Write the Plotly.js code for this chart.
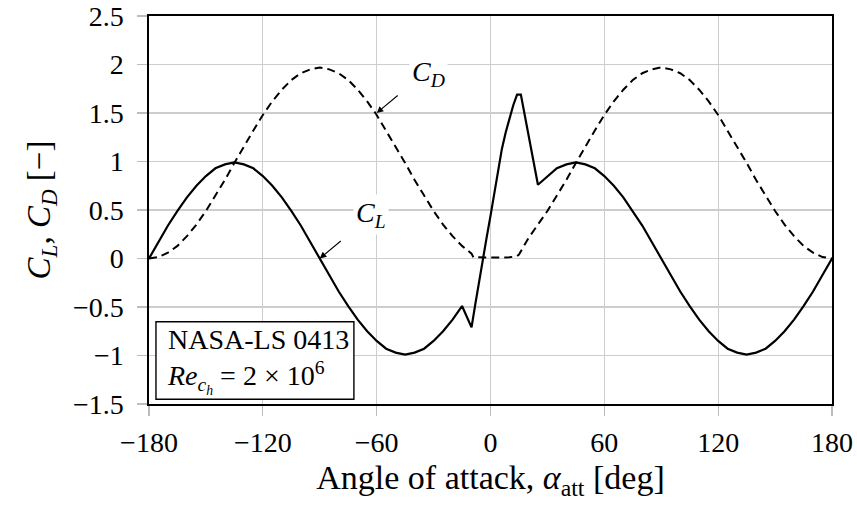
<!DOCTYPE html>
<html>
<head>
<meta charset="utf-8">
<script src="https://cdn.plot.ly/plotly-3.0.1.min.js"></script>
<style>html,body{margin:0;padding:0;background:#fff;}#chart{width:857px;height:505px;}</style>
</head>
<body>
<div id="chart"></div>
<script>
// Angle of attack [deg] and lift coefficient
const alphaCL = [-180,-175,-170,-165,-160,-155,-150,-145,-140,-135,-130,-125,-120,-115,-110,-105,-100,-95,-90,
  -85,-80,-75,-70,-65,-60,-55,-50,-45,-40,-35,-30,-25,-20,-15,-10,-8,-6,-4,-2,0,2,4,6,8,10,12,14,16,25,
  30,35,40,45,50,55,60,65,70,75,80,85,90,95,100,105,110,115,120,125,130,135,140,145,150,155,160,165,170,175,180];
const CL = [0,0.17,0.34,0.49,0.63,0.75,0.85,0.93,0.97,0.99,0.97,0.93,0.85,0.75,0.63,0.49,0.34,0.17,0,
  -0.17,-0.34,-0.49,-0.63,-0.75,-0.85,-0.93,-0.97,-0.99,-0.97,-0.93,-0.85,-0.75,-0.63,-0.49,-0.71,-0.47,-0.23,0,0.22,0.44,0.67,0.93,1.13,1.30,1.45,1.58,1.69,1.69,0.76,
  0.85,0.93,0.97,0.99,0.97,0.93,0.85,0.75,0.63,0.49,0.34,0.17,0,-0.17,-0.34,-0.49,-0.63,-0.75,-0.85,-0.93,-0.97,-0.99,-0.97,-0.93,-0.85,-0.75,-0.63,-0.49,-0.34,-0.17,0];

// Angle of attack [deg] and drag coefficient
const alphaCD = [-180,-175,-170,-165,-160,-155,-150,-145,-140,-135,-130,-125,-120,-115,-110,-105,-100,-95,-90,
  -85,-80,-75,-70,-65,-60,-55,-50,-45,-40,-35,-30,-25,-20,-15,-10,-9,-5,0,5,10,14,15,20,25,
  30,35,40,45,50,55,60,65,70,75,80,85,90,95,100,105,110,115,120,125,130,135,140,145,150,155,160,165,170,175,180];
const CD = [0,0.015,0.06,0.13,0.23,0.35,0.49,0.65,0.81,0.985,1.16,1.32,1.48,1.62,1.74,1.84,1.91,1.95,1.97,
  1.95,1.91,1.84,1.74,1.62,1.48,1.32,1.16,0.985,0.81,0.65,0.49,0.35,0.23,0.13,0.05,0.012,0.01,0.008,0.01,0.012,0.025,0.04,0.21,0.35,
  0.49,0.65,0.81,0.985,1.16,1.32,1.48,1.62,1.74,1.84,1.91,1.95,1.97,1.95,1.91,1.84,1.74,1.62,1.48,1.32,1.16,0.985,0.81,0.65,0.49,0.35,0.23,0.13,0.06,0.015,0];

const xTicks = [-180,-120,-60,0,60,120,180];
const xTickText = ['−180','−120','−60','0','60','120','180'];
const yTicks = [-1.5,-1,-0.5,0,0.5,1,1.5,2,2.5];
const yTickText = ['−1.5','−1','−0.5','0','0.5','1','1.5','2','2.5'];

const serif = 'Liberation Serif, Times New Roman, serif';

const traces = [
  {x: alphaCD, y: CD, type: 'scatter', mode: 'lines', line: {color: '#000', width: 2, dash: '8px,5px'}, hoverinfo: 'skip'},
  {x: alphaCL, y: CL, type: 'scatter', mode: 'lines', line: {color: '#000', width: 2.2}, hoverinfo: 'skip'}
];

const axisCommon = {
  showline: true, mirror: true, linecolor: '#000', linewidth: 1.7,
  showgrid: true, gridcolor: '#cdcdcd', gridwidth: 1.2,
  zeroline: false,
  ticks: 'outside', ticklen: 10, tickwidth: 1.2, tickcolor: '#bdbdbd',
  tickfont: {family: serif, size: 28, color: '#000'},
  fixedrange: true
};

const layout = {
  width: 857, height: 505,
  margin: {l: 149, r: 25, t: 16, b: 101},
  paper_bgcolor: '#fff', plot_bgcolor: '#fff',
  showlegend: false,
  font: {family: serif, color: '#000'},
  xaxis: Object.assign({}, axisCommon, {
    range: [-180, 180], tickmode: 'array', tickvals: xTicks, ticktext: xTickText,
    ticklabelstandoff: 3,
    title: {text: 'Angle of attack, <i>α</i><sub>att</sub> [deg]', font: {family: serif, size: 34, color: '#000'}, standoff: 8}
  }),
  yaxis: Object.assign({}, axisCommon, {
    range: [-1.5, 2.5], tickmode: 'array', tickvals: yTicks, ticktext: yTickText,
    ticklabelstandoff: 8,
    title: {text: '<i>C</i><sub><i>L</i></sub>, <i>C</i><sub><i>D</i></sub> [−]', font: {family: serif, size: 33, color: '#000'}, standoff: 12}
  }),
  shapes: [
    {type: 'rect', xref: 'paper', yref: 'paper', x0: 0.0102, x1: 0.300, y0: 0.0121, y1: 0.212,
     line: {color: '#000', width: 1.4}, fillcolor: '#fff', layer: 'above'}
  ],
  annotations: [
    {x: -60, y: 1.5, xref: 'x', yref: 'y', ax: 24, ay: -20, text: ' ', showarrow: true,
     arrowhead: 2, arrowsize: 1.2, arrowwidth: 1.1, arrowcolor: '#000'},
    {x: -90, y: 0, xref: 'x', yref: 'y', ax: 24, ay: -20, text: ' ', showarrow: true,
     arrowhead: 2, arrowsize: 1.2, arrowwidth: 1.1, arrowcolor: '#000'},
    {x: -32.5, y: 1.91, xref: 'x', yref: 'y', text: '<i>C</i><sub><i>D</i></sub>', showarrow: false,
     bgcolor: '#fff', font: {family: serif, size: 28, color: '#000'}, borderpad: 2},
    {x: -63, y: 0.45, xref: 'x', yref: 'y', text: '<i>C</i><sub><i>L</i></sub>', showarrow: false,
     bgcolor: '#fff', font: {family: serif, size: 28, color: '#000'}, borderpad: 2},
    {x: 0.0235, y: 0.112, xref: 'paper', yref: 'paper', xanchor: 'left', yanchor: 'middle', align: 'left',
     text: 'NASA-LS 0413<br><i>Re</i><sub><i>c</i><sub><i>h</i></sub></sub> = 2 × 10<sup>6</sup>', showarrow: false,
     font: {family: serif, size: 28, color: '#000'}}
  ]
};

Plotly.newPlot('chart', traces, layout, {staticPlot: true, displayModeBar: false});
</script>
</body>
</html>
